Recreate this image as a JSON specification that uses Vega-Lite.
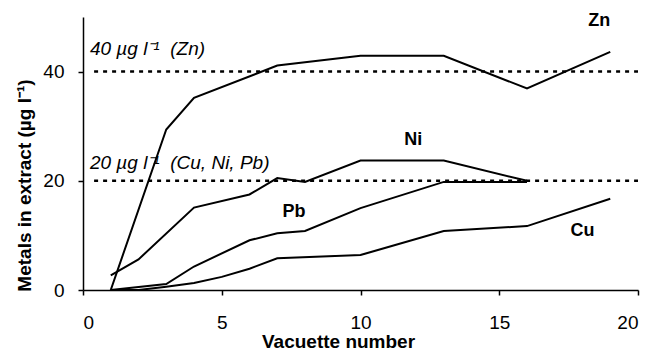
{
  "$schema": "https://vega.github.io/schema/vega-lite/v6.json",
  "autosize": "none",
  "width": 555,
  "height": 273,
  "padding": {"left": 83, "top": 17, "right": 13, "bottom": 62},
  "background": "white",
  "config": {
    "view": {"stroke": null},
    "font": "Liberation Sans",
    "axis": {
      "grid": false,
      "domainColor": "black",
      "domainWidth": 1.5,
      "tickColor": "black",
      "tickWidth": 1.5,
      "tickSize": 5,
      "labelFont": "Liberation Sans",
      "labelFontSize": 19,
      "labelColor": "black",
      "titleFont": "Liberation Sans",
      "titleFontSize": 19,
      "titleFontWeight": "bold",
      "titleColor": "black"
    }
  },
  "datasets": {
    "series": [
      {"metal": "Zn", "x": 1, "y": 0},
      {"metal": "Zn", "x": 3, "y": 29.4},
      {"metal": "Zn", "x": 4, "y": 35.2},
      {"metal": "Zn", "x": 7, "y": 41.1},
      {"metal": "Zn", "x": 10, "y": 42.9},
      {"metal": "Zn", "x": 13, "y": 42.9},
      {"metal": "Zn", "x": 16, "y": 36.9},
      {"metal": "Zn", "x": 19, "y": 43.6},
      {"metal": "Ni", "x": 1, "y": 2.7},
      {"metal": "Ni", "x": 2, "y": 5.6},
      {"metal": "Ni", "x": 4, "y": 15.1},
      {"metal": "Ni", "x": 6, "y": 17.5},
      {"metal": "Ni", "x": 7, "y": 20.5},
      {"metal": "Ni", "x": 8, "y": 19.8},
      {"metal": "Ni", "x": 10, "y": 23.7},
      {"metal": "Ni", "x": 13, "y": 23.7},
      {"metal": "Ni", "x": 16, "y": 20},
      {"metal": "Pb", "x": 1, "y": 0},
      {"metal": "Pb", "x": 3, "y": 1.1},
      {"metal": "Pb", "x": 4, "y": 4.3},
      {"metal": "Pb", "x": 6, "y": 9.1},
      {"metal": "Pb", "x": 7, "y": 10.4},
      {"metal": "Pb", "x": 8, "y": 10.8},
      {"metal": "Pb", "x": 10, "y": 15},
      {"metal": "Pb", "x": 13, "y": 19.8},
      {"metal": "Pb", "x": 16, "y": 19.8},
      {"metal": "Cu", "x": 1, "y": 0},
      {"metal": "Cu", "x": 2, "y": 0},
      {"metal": "Cu", "x": 3, "y": 0.6},
      {"metal": "Cu", "x": 4, "y": 1.3},
      {"metal": "Cu", "x": 5, "y": 2.4},
      {"metal": "Cu", "x": 6, "y": 3.9},
      {"metal": "Cu", "x": 7, "y": 5.8},
      {"metal": "Cu", "x": 10, "y": 6.4},
      {"metal": "Cu", "x": 13, "y": 10.8},
      {"metal": "Cu", "x": 16, "y": 11.7},
      {"metal": "Cu", "x": 19, "y": 16.7}
    ],
    "limits": [
      {"x": 0.4, "x2": 20, "y": 40},
      {"x": 0.4, "x2": 20, "y": 20}
    ],
    "notes": [
      {"x": 0.25, "y": 44.2, "label": "40 µg l⁻¹\u00a0\u00a0(Zn)"},
      {"x": 0.25, "y": 23.3, "label": "20 µg l⁻¹\u00a0\u00a0(Cu, Ni, Pb)"}
    ],
    "names": [
      {"x": 18.6, "y": 49.2, "label": "Zn"},
      {"x": 11.9, "y": 27.5, "label": "Ni"},
      {"x": 7.6, "y": 14.3, "label": "Pb"},
      {"x": 18.0, "y": 10.8, "label": "Cu"}
    ]
  },
  "layer": [
    {
      "data": {"name": "limits"},
      "mark": {"type": "rule", "stroke": "black", "strokeWidth": 2.5, "strokeDash": [4, 5]},
      "encoding": {
        "x": {"field": "x", "type": "quantitative", "scale": {"domain": [0, 20]},
          "axis": {"values": [0, 5, 10, 15, 20], "title": "Vacuette number", "labelPadding": 18, "titleX": 255, "titleY": 57, "titleBaseline": "alphabetic"}},
        "x2": {"field": "x2"},
        "y": {"field": "y", "type": "quantitative", "scale": {"domain": [0, 50]},
          "axis": {"values": [0, 20, 40], "title": "Metals in extract (µg l⁻¹)", "labelPadding": 14, "titlePadding": 8, "titleY": 168}}
      }
    },
    {
      "data": {"name": "series"},
      "mark": {"type": "line", "stroke": "black", "strokeWidth": 2},
      "encoding": {
        "x": {"field": "x", "type": "quantitative"},
        "y": {"field": "y", "type": "quantitative"},
        "detail": {"field": "metal"}
      }
    },
    {
      "data": {"name": "notes"},
      "mark": {"type": "text", "align": "left", "baseline": "middle", "fontStyle": "italic", "fontSize": 19, "font": "Liberation Sans", "color": "black"},
      "encoding": {
        "x": {"field": "x", "type": "quantitative"},
        "y": {"field": "y", "type": "quantitative"},
        "text": {"field": "label"}
      }
    },
    {
      "data": {"name": "names"},
      "mark": {"type": "text", "align": "center", "baseline": "middle", "fontWeight": "bold", "fontSize": 18, "font": "Liberation Sans", "color": "black"},
      "encoding": {
        "x": {"field": "x", "type": "quantitative"},
        "y": {"field": "y", "type": "quantitative"},
        "text": {"field": "label"}
      }
    }
  ]
}
